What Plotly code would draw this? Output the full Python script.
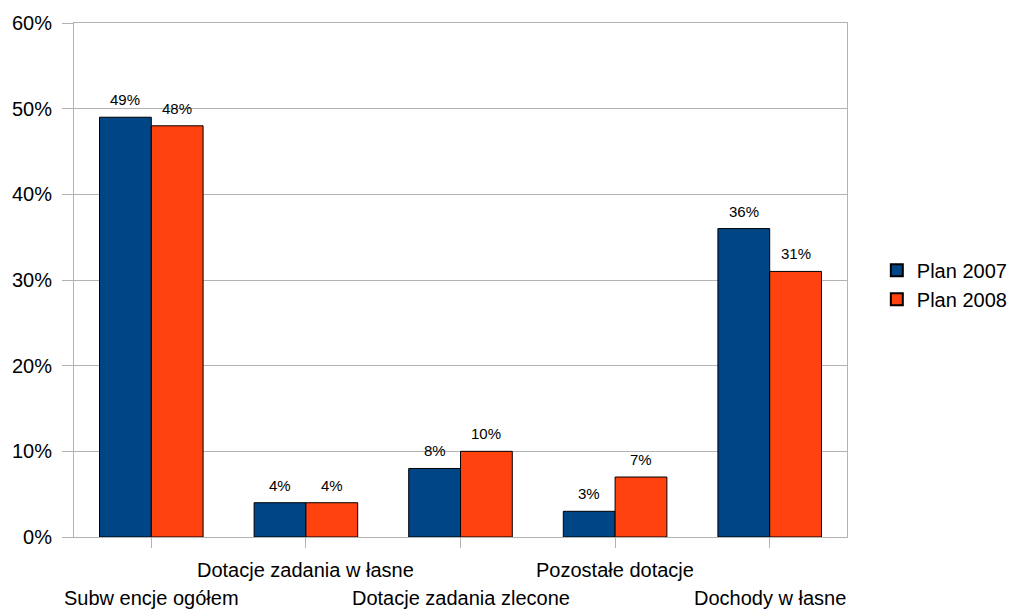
import plotly.graph_objects as go

categories = ["Subw encje ogółem", "Dotacje zadania w łasne", "Dotacje zadania zlecone",
              "Pozostałe dotacje", "Dochody w łasne"]
plan_2007 = [0.49, 0.04, 0.08, 0.03, 0.36]
plan_2008 = [0.48, 0.04, 0.10, 0.07, 0.31]
series_names = ["Plan 2007", "Plan 2008"]
colors = ["#004586", "#ff420e"]

FONT = "Liberation Sans, Arial, sans-serif"
BARGAP = 0.33
n_series = 2
bar_w = (1 - BARGAP) / n_series

fig = go.Figure()
for s, (name, vals, col) in enumerate(zip(series_names, [plan_2007, plan_2008], colors)):
    fig.add_trace(go.Bar(
        name=name, x=categories, y=vals,
        marker=dict(color=col, line=dict(color="#000000", width=1)),
    ))
    offset = (s - (n_series - 1) / 2) * bar_w
    for i, v in enumerate(vals):
        fig.add_annotation(
            x=i + offset, xref="x", y=v, yref="y", yanchor="bottom",
            yshift=7, text=f"{round(v*100)}%", showarrow=False,
            font=dict(size=15, color="#000000", family=FONT),
        )

for i, cat in enumerate(categories):
    fig.add_annotation(
        x=cat, xref="x", y=0, yref="paper", yanchor="middle",
        yshift=-61 if i % 2 == 0 else -33,
        text=cat, showarrow=False,
        font=dict(size=20, color="#000000", family=FONT),
    )

fig.update_layout(
    width=1009, height=610,
    margin=dict(l=74, r=162, t=23, b=73, autoexpand=False),
    paper_bgcolor="white", plot_bgcolor="white",
    barmode="group", bargap=BARGAP, bargroupgap=0,
    font=dict(family=FONT, size=20, color="#000000"),
    legend=dict(xref="container", yref="container", x=0.869, y=0.533,
                xanchor="left", yanchor="middle",
                font=dict(size=20), tracegroupgap=4, itemsizing="constant"),
    showlegend=True,
)
fig.update_xaxes(
    range=[-0.5, len(categories) - 0.5],
    showticklabels=False, ticks="outside", ticklen=10, tickcolor="#b3b3b3",
    showline=True, linecolor="#b3b3b3", mirror=True, showgrid=False,
)
fig.update_yaxes(
    range=[0, 0.6], dtick=0.1, tickformat=".0%",
    ticks="outside", ticklen=11, tickcolor="#b3b3b3",
    showline=True, linecolor="#b3b3b3", mirror=True,
    showgrid=True, gridcolor="#b3b3b3", zeroline=False,
    tickfont=dict(size=20), ticklabelstandoff=6,
)

fig.write_html("out.html", config={"displayModeBar": False},
               post_script="document.body.style.margin='0';document.body.style.overflow='hidden';")
